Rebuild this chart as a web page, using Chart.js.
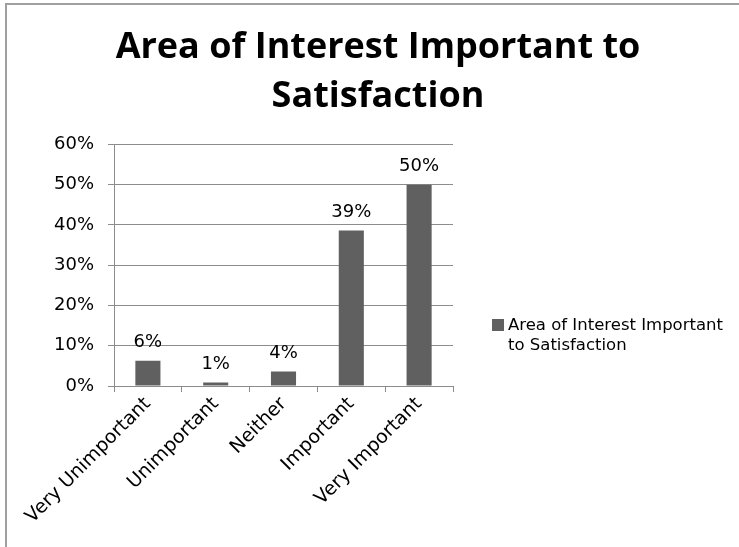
<!DOCTYPE html>
<html>
<head>
<meta charset="utf-8">
<script src="https://cdn.jsdelivr.net/npm/chart.js@4.4.0/dist/chart.umd.min.js"></script>
<style>
  body { margin: 0; background: #fff; }
  #wrap { position: relative; width: 739px; height: 547px; overflow: hidden; }
  #frame { position: absolute; left: 5px; top: 3px; right: -10px; bottom: -10px;
           border-left: 2px solid #a0a0a0; border-top: 2px solid #a0a0a0; }
  #chart { position: absolute; left: 0; top: 0; }
  #legend { position: absolute; left: 492px; top: 315px; display: flex; align-items: flex-start;
            font: 16.5px "DejaVu Sans", sans-serif; color: #000; line-height: 20px; }
  #legend .box { flex: none; width: 12px; height: 12px; margin: 4px 4px 0 0; }
  #legend .txt { width: 225px; }
</style>
</head>
<body>
<div id="wrap">
  <div id="frame"></div>
  <canvas id="chart" width="739" height="547"></canvas>
  <div id="legend"></div>
</div>
<script>
// data (percent)
const categories = ['Very Unimportant', 'Unimportant', 'Neither', 'Important', 'Very Important'];
const values = [6.3, 0.9, 3.6, 38.6, 50.0];
const seriesName = 'Area of Interest Important to Satisfaction';
const titleLines = ['Area of Interest Important to', 'Satisfaction'];

const barColor = '#606060';
const lineColor = '#8c8c8c';

// value labels above each bar
const valueLabels = {
    id: 'valueLabels',
    afterDatasetsDraw(chart) {
        const ctx = chart.ctx;
        ctx.save();
        ctx.font = '18px "DejaVu Sans"';
        ctx.fillStyle = '#000';
        ctx.textAlign = 'center';
        ctx.textBaseline = 'bottom';
        chart.getDatasetMeta(0).data.forEach((bar, i) => {
            ctx.fillText(Math.round(values[i]) + '%', bar.x, bar.y - 9);
        });
        ctx.restore();
    }
};

const chart = new Chart(document.querySelector('#chart').getContext('2d'), {
    type: 'bar',
    data: {
        labels: categories,
        datasets: [
            {
                label: seriesName,
                data: values,
                backgroundColor: barColor,
                barPercentage: 0.37,
                categoryPercentage: 1
            }
        ]
    },
    options: {
        responsive: false,
        animation: false,
        layout: { padding: { left: 17, top: 0, right: 0, bottom: 0 } },
        plugins: {
            legend: { display: false },
            tooltip: { enabled: false },
            title: {
                display: true,
                text: titleLines,
                color: '#000',
                font: { family: 'Open Sans', size: 36, weight: 'bold', lineHeight: 1.34 },
                padding: { top: 24, bottom: 24 }
            }
        },
        scales: {
            x: {
                grid: { display: true, drawOnChartArea: false, drawTicks: true, tickLength: 6, color: lineColor, offset: true },
                border: { color: lineColor, width: 1 },
                ticks: { color: '#000', font: { family: 'DejaVu Sans', size: 19 }, autoSkip: false, minRotation: 45, maxRotation: 45, padding: 1 },
                afterFit(s) { s.height = 161; }
            },
            y: {
                min: 0,
                max: 60,
                grid: { color: lineColor, tickLength: 6 },
                border: { color: lineColor, width: 1 },
                ticks: { stepSize: 10, color: '#000', font: { family: 'DejaVu Sans', size: 18 }, padding: 14, callback: v => v + '%' },
                afterFit(s) { s.width = 97; }
            },
            // empty right-side box that keeps room for the legend
            side: {
                position: 'right',
                display: true,
                grid: { display: false },
                border: { display: false },
                ticks: { display: false },
                afterFit(s) { s.width = 286; }
            }
        }
    },
    plugins: [valueLabels]
});

// legend built from the dataset
const legend = document.querySelector('#legend');
const ds = chart.data.datasets[0];
legend.innerHTML = '<span class="box" style="background:' + ds.backgroundColor + '"></span>' +
    '<span class="txt">' + ds.label + '</span>';
</script>
</body>
</html>
